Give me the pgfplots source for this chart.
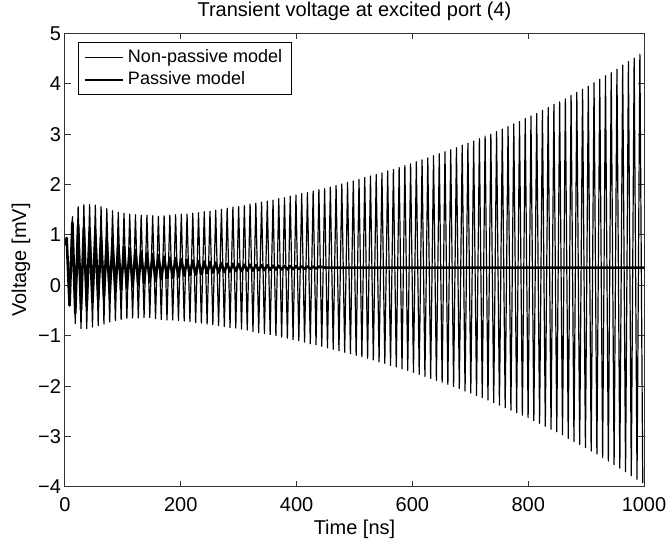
\documentclass[border=0pt]{standalone}
\usepackage{fontspec}
\setmainfont{Liberation Sans}
\usepackage{pgfplots}
\pgfplotsset{compat=1.18}

\begin{document}
\begin{tikzpicture}[font=\fontsize{10}{12}\selectfont]
\begin{axis}[
    scale only axis,
    width=289.5pt, height=226.7pt,
    xmin=0, xmax=1000,
    ymin=-4, ymax=5,
    xtick={0,200,400,600,800,1000},
    ytick={-4,-3,-2,-1,0,1,2,3,4,5},
    yticklabels={−4,−3,−2,−1,0,1,2,3,4,5},
    /pgf/number format/assume math mode=true,
    /pgf/number format/1000 sep={},
    xticklabel style={yshift=-2pt},
    yticklabel style={xshift=1.5pt},
    tick align=inside,
    major tick length=3pt,
    axis line style={black!80, line width=0.5pt},
    tick style={black!80, line width=0.5pt},
    xlabel={Time [ns]},
    ylabel={Voltage [mV]},
    xlabel style={yshift=3pt},
    ylabel style={yshift=-3pt},
    title={Transient voltage at excited port (4)},
    title style={yshift=-3pt},
    legend cell align=left,
    legend style={at={(0,1)}, anchor=north west, xshift=6.5pt, yshift=-4.5pt,
        draw=black, inner xsep=2.5pt, inner ysep=1.5pt,
        row sep=-1pt, font=\fontsize{9}{11}\selectfont,
        nodes={inner xsep=2pt}},
    legend image code/.code={\draw[#1] (0pt,0pt) -- (19pt,0pt);},
]
\coordinate (bl) at (rel axis cs:0,0);
\coordinate (tr) at (rel axis cs:1,1);

% non-passive model: growing oscillation
\addplot[black, line width=0.6pt, line join=round] coordinates {
(0,0.80)
(2.9,0.94) (7.85,-0.40) (12.8,1.36) (17.75,-0.76) (22.7,1.56) (27.65,-0.86) (32.6,1.60) (37.55,-0.86) (42.5,1.60) (47.45,-0.83)
(52.4,1.59) (57.35,-0.80) (62.3,1.56) (67.25,-0.77) (72.2,1.52) (77.15,-0.73) (82.1,1.48) (87.05,-0.70) (92,1.45) (96.95,-0.68)
(101.9,1.43) (106.85,-0.66) (111.8,1.41) (116.75,-0.65) (121.7,1.40) (126.65,-0.65) (131.6,1.39) (136.55,-0.64) (141.5,1.39) (146.45,-0.64)
(151.4,1.38) (156.35,-0.66) (161.3,1.37) (166.25,-0.68) (171.2,1.38) (176.15,-0.69) (181.1,1.39) (186.05,-0.69) (191,1.40) (195.95,-0.70)
(200.9,1.41) (205.85,-0.71) (210.8,1.41) (215.75,-0.72) (220.7,1.43) (225.65,-0.74) (230.6,1.44) (235.55,-0.75) (240.5,1.46) (245.45,-0.77)
(250.4,1.47) (255.35,-0.78) (260.3,1.49) (265.25,-0.80) (270.2,1.51) (275.15,-0.82) (280.1,1.53) (285.05,-0.84) (290,1.55) (294.95,-0.85)
(299.9,1.56) (304.85,-0.87) (309.8,1.58) (314.75,-0.89) (319.7,1.61) (324.65,-0.92) (329.6,1.63) (334.55,-0.94) (339.5,1.65) (344.45,-0.96)
(349.4,1.67) (354.35,-0.98) (359.3,1.69) (364.25,-1.00) (369.2,1.72) (374.15,-1.03) (379.1,1.74) (384.05,-1.05) (389,1.77) (393.95,-1.08)
(398.9,1.79) (403.85,-1.10) (408.8,1.82) (413.75,-1.13) (418.7,1.84) (423.65,-1.16) (428.6,1.87) (433.55,-1.18) (438.5,1.90) (443.45,-1.21)
(448.4,1.92) (453.35,-1.24) (458.3,1.95) (463.25,-1.27) (468.2,1.98) (473.15,-1.30) (478.1,2.01) (483.05,-1.33) (488,2.04) (492.95,-1.36)
(497.9,2.07) (502.85,-1.39) (507.8,2.10) (512.75,-1.42) (517.7,2.14) (522.65,-1.45) (527.6,2.17) (532.55,-1.48) (537.5,2.20) (542.45,-1.52)
(547.4,2.23) (552.35,-1.55) (557.3,2.27) (562.25,-1.59) (567.2,2.30) (572.15,-1.62) (577.1,2.34) (582.05,-1.66) (587,2.38) (591.95,-1.69)
(596.9,2.41) (601.85,-1.73) (606.8,2.45) (611.75,-1.77) (616.7,2.49) (621.65,-1.81) (626.6,2.53) (631.55,-1.85) (636.5,2.57) (641.45,-1.89)
(646.4,2.61) (651.35,-1.93) (656.3,2.65) (661.25,-1.97) (666.2,2.69) (671.15,-2.01) (676.1,2.73) (681.05,-2.05) (686,2.78) (690.95,-2.10)
(695.9,2.82) (700.85,-2.14) (705.8,2.86) (710.75,-2.19) (715.7,2.91) (720.65,-2.23) (725.6,2.96) (730.55,-2.28) (735.5,3.00) (740.45,-2.33)
(745.4,3.05) (750.35,-2.38) (755.3,3.10) (760.25,-2.43) (765.2,3.15) (770.15,-2.48) (775.1,3.20) (780.05,-2.53) (785,3.25) (789.95,-2.58)
(794.9,3.31) (799.85,-2.63) (804.8,3.36) (809.75,-2.69) (814.7,3.41) (819.65,-2.74) (824.6,3.47) (829.55,-2.80) (834.5,3.53) (839.45,-2.86)
(844.4,3.59) (849.35,-2.91) (854.3,3.64) (859.25,-2.97) (864.2,3.70) (869.15,-3.04) (874.1,3.77) (879.05,-3.10) (884,3.83) (888.95,-3.16)
(893.9,3.89) (898.85,-3.22) (903.8,3.95) (908.75,-3.29) (913.7,4.02) (918.65,-3.35) (923.6,4.09) (928.55,-3.42) (933.5,4.16) (938.45,-3.49)
(943.4,4.22) (948.35,-3.56) (953.3,4.29) (958.25,-3.63) (963.2,4.37) (968.15,-3.70) (973.1,4.44) (978.05,-3.78) (983,4.51) (987.95,-3.85)
(992.9,4.59) (997.85,-3.93)
};
\addlegendentry{Non-passive model}

% passive model: damped oscillation settling at 0.35
\addplot[black, line width=1.3pt, line join=round] coordinates {
(0,0.80) (2.9,0.94) (7.85,-0.40) (12.8,1.25) (17.75,-0.55) (22.7,1.21) (27.65,-0.48) (32.6,1.14) (37.55,-0.41) (42.5,1.07) (47.45,-0.34)
(52.4,1.01) (57.35,-0.28) (62.3,0.95) (67.25,-0.22) (72.2,0.90) (77.15,-0.17) (82.1,0.85) (87.05,-0.13) (92,0.81) (96.95,-0.09)
(101.9,0.77) (106.85,-0.05) (111.8,0.73) (116.75,-0.02) (121.7,0.70) (126.65,0.01) (131.6,0.67) (136.55,0.04) (141.5,0.64) (146.45,0.07)
(151.4,0.62) (156.35,0.09) (161.3,0.60) (166.25,0.12) (171.2,0.57) (176.15,0.14) (181.1,0.55) (186.05,0.15) (191,0.54) (195.95,0.17)
(200.9,0.52) (205.85,0.19) (210.8,0.51) (215.75,0.20) (220.7,0.49) (225.65,0.21) (230.6,0.48) (235.55,0.22) (240.5,0.47) (245.45,0.24)
(250.4,0.46) (255.35,0.25) (260.3,0.45) (265.25,0.25) (270.2,0.44) (275.15,0.26) (280.1,0.43) (285.05,0.27) (290,0.43) (294.95,0.28)
(299.9,0.42) (304.85,0.28) (309.8,0.41) (314.75,0.29) (319.7,0.41) (324.65,0.29) (329.6,0.40) (334.55,0.30) (339.5,0.40) (344.45,0.30)
(349.4,0.395) (354.35,0.307) (359.3,0.391) (364.25,0.311) (369.2,0.388) (374.15,0.314) (379.1,0.384) (384.05,0.317) (389,0.381) (393.95,0.320)
(398.9,0.379) (403.85,0.323) (408.8,0.376) (413.75,0.325) (418.7,0.374) (423.65,0.327) (428.6,0.372) (433.55,0.329) (438.5,0.370) (450,0.35)
(1000,0.35)
};
\addlegendentry{Passive model}
\end{axis}
\pgfresetboundingbox
\path ([shift={(-32.5pt,-28.7pt)}]bl) rectangle ([shift={(13pt,16.7pt)}]tr);
\end{tikzpicture}
\end{document}
